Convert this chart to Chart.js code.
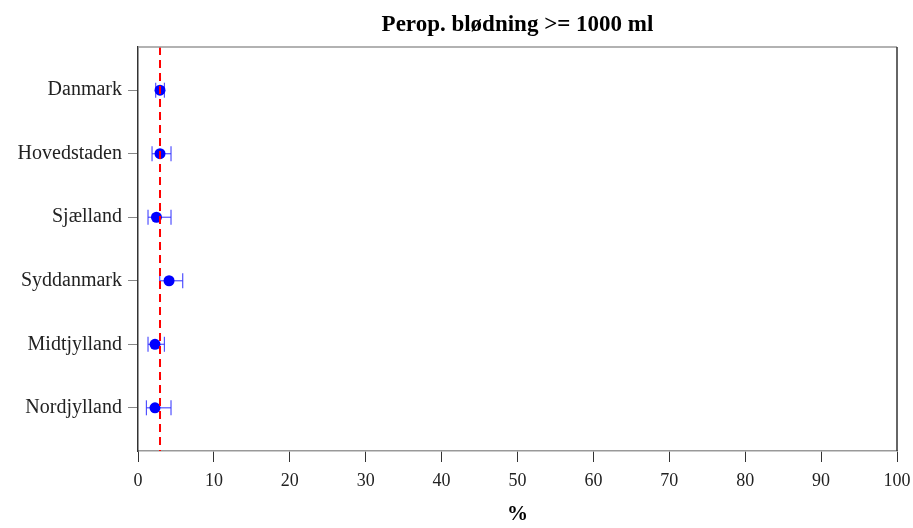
<!DOCTYPE html>
<html>
<head>
<meta charset="utf-8">
<script src="https://cdn.jsdelivr.net/npm/chart.js@4"></script>
<style>
  html, body { margin: 0; padding: 0; background: #fff; }
  #wrap { width: 913px; height: 528px; }
</style>
</head>
<body>
<div id="wrap"><canvas id="myChart" width="913" height="528"></canvas></div>
<script>
// regions top to bottom
const regions = ["Danmark", "Hovedstaden", "Sjælland", "Syddanmark", "Midtjylland", "Nordjylland"];
const estimate = [2.9, 2.9, 2.43, 4.09, 2.24, 2.24];
const lower = [2.33, 1.85, 1.32, 2.86, 1.32, 1.11];
const upper = [3.48, 4.35, 4.35, 5.89, 3.48, 4.35];
const refLine = 2.9;
const xTicks = [0, 10, 20, 30, 40, 50, 60, 70, 80, 90, 100];
const titleText = "Perop. blødning >= 1000 ml";

const serif = "'Liberation Serif', 'DejaVu Serif', serif";

let datasets = [];

// red dashed reference line (drawn on top)
datasets.push({
    data: [{x: refLine, y: 0.32}, {x: refLine, y: 6.68}],
    showLine: true,
    borderColor: "#ff0000",
    borderWidth: 2,
    borderDash: [8, 5],
    pointRadius: 0,
    order: 0,
});

// points
datasets.push({
    data: estimate.map((v, i) => ({x: v, y: i + 1})),
    pointRadius: 5.5,
    pointBackgroundColor: "#0000ff",
    pointBorderWidth: 0,
    order: 1,
});

// error bars
for (let i = 0; i < regions.length; i++) {
    datasets.push({
        data: [{x: lower[i], y: i + 1}, {x: upper[i], y: i + 1}],
        showLine: true,
        borderColor: "rgba(50,50,255,0.85)",
        borderWidth: 1.2,
        pointStyle: "line",
        pointRotation: 90,
        pointRadius: 7.5,
        pointBorderColor: "rgba(50,50,255,0.85)",
        pointBorderWidth: 1.2,
        order: 2,
    });
}

// frame round the plot + title centred over the plot area
const framePlugin = {
    id: "frame",
    afterDraw(chart) {
        const {ctx, chartArea: a} = chart;
        ctx.save();
        ctx.lineWidth = 1.5;
        ctx.strokeStyle = "#999";
        ctx.beginPath();
        ctx.moveTo(a.left, a.top);
        ctx.lineTo(a.right, a.top);
        ctx.stroke();
        ctx.strokeStyle = "#333";
        ctx.beginPath();
        ctx.moveTo(a.right, a.top);
        ctx.lineTo(a.right, a.bottom);
        ctx.stroke();

        ctx.fillStyle = "#000";
        ctx.font = "bold 23px " + serif;
        ctx.textAlign = "center";
        ctx.textBaseline = "alphabetic";
        ctx.fillText(titleText, (a.left + a.right) / 2, 31);
        ctx.restore();
    }
};

new Chart(document.getElementById("myChart"), {
    type: "scatter",
    data: {datasets: datasets},
    plugins: [framePlugin],
    options: {
        responsive: false,
        animation: false,
        layout: {padding: {top: 47, right: 16, left: 0, bottom: 0}},
        plugins: {
            legend: {display: false},
            tooltip: {enabled: false},
            title: {display: false},
        },
        scales: {
            x: {
                type: "linear",
                min: 0,
                max: 100,
                afterBuildTicks: (axis) => { axis.ticks = xTicks.map(v => ({value: v})); },
                afterFit: (axis) => { axis.height = 77; axis.paddingLeft = 0; axis.paddingRight = 0; },
                grid: {drawOnChartArea: false, drawTicks: true, tickLength: 11, color: "#333"},
                border: {color: "#999", width: 1.5},
                ticks: {color: "#222", padding: 8, maxRotation: 0, font: {family: serif, size: 18}},
                title: {
                    display: true,
                    text: "%",
                    color: "#000",
                    font: {family: serif, size: 21, weight: "bold"},
                    padding: {top: 0, bottom: 1},
                },
            },
            y: {
                type: "linear",
                reverse: true,
                min: 0.32,
                max: 6.68,
                afterBuildTicks: (axis) => { axis.ticks = regions.map((r, i) => ({value: i + 1})); },
                afterFit: (axis) => { axis.width = 138; axis.paddingTop = 0; axis.paddingBottom = 0; },
                grid: {drawOnChartArea: false, drawTicks: true, tickLength: 10, color: "#888"},
                border: {color: "#333", width: 1.5},
                ticks: {
                    color: "#222",
                    padding: 6,
                    font: {family: serif, size: 20},
                    callback: (v) => regions[v - 1],
                },
            },
        },
    },
});
</script>
</body>
</html>
